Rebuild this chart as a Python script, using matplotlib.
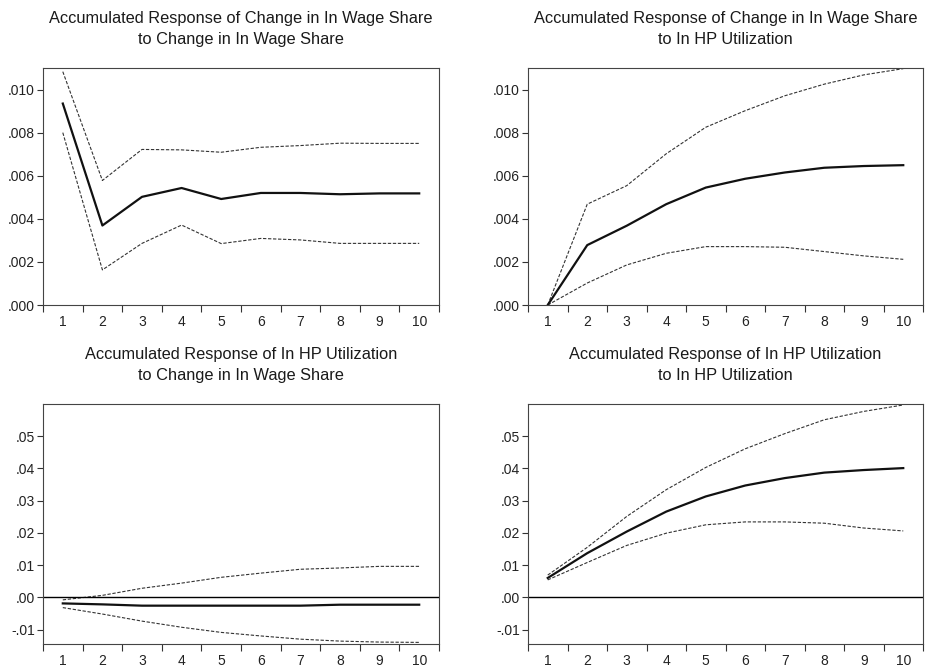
import matplotlib
matplotlib.use("Agg")
import matplotlib.pyplot as plt
from matplotlib.ticker import FixedLocator, FuncFormatter, NullFormatter

plt.rcParams['font.family'] = ['Liberation Sans', 'DejaVu Sans']

periods = list(range(1, 11))

# Change in ln wage share -> change in ln wage share
ws_ws_mean = [0.00935, 0.00369, 0.00502, 0.00543, 0.00492, 0.00520, 0.00520, 0.00514, 0.00518, 0.00518]
ws_ws_up = [0.01083, 0.00578, 0.00722, 0.00720, 0.00709, 0.00732, 0.00740, 0.00751, 0.00750, 0.00750]
ws_ws_lo = [0.00800, 0.00163, 0.00286, 0.00371, 0.00285, 0.00309, 0.00302, 0.00286, 0.00286, 0.00286]

# Change in ln wage share -> ln HP utilization
ws_u_mean = [0.0, 0.00278, 0.00368, 0.00468, 0.00545, 0.00586, 0.00615, 0.00637, 0.00645, 0.00649]
ws_u_up = [0.0, 0.00468, 0.00554, 0.00702, 0.00825, 0.00902, 0.00971, 0.01025, 0.01068, 0.01097]
ws_u_lo = [0.0, 0.00102, 0.00186, 0.00240, 0.00271, 0.00271, 0.00268, 0.00248, 0.00228, 0.00212]

# ln HP utilization -> change in ln wage share
u_ws_mean = [-0.0019, -0.0022, -0.0026, -0.0026, -0.0026, -0.0026, -0.0026, -0.0023, -0.0023, -0.0023]
u_ws_up = [-0.0008, 0.0006, 0.0028, 0.0044, 0.0062, 0.0075, 0.0087, 0.0091, 0.0096, 0.0096]
u_ws_lo = [-0.0032, -0.0052, -0.0074, -0.0093, -0.0109, -0.0120, -0.0130, -0.0136, -0.0139, -0.0140]

# ln HP utilization -> ln HP utilization
u_u_mean = [0.0060, 0.0137, 0.0204, 0.0266, 0.0313, 0.0347, 0.0370, 0.0387, 0.0395, 0.0401]
u_u_up = [0.0069, 0.0155, 0.0251, 0.0334, 0.0403, 0.0461, 0.0508, 0.0551, 0.0577, 0.0597]
u_u_lo = [0.0054, 0.0108, 0.0161, 0.0199, 0.0225, 0.0234, 0.0234, 0.0230, 0.0215, 0.0206]

titles = [
    "Accumulated Response of Change in In Wage Share\nto Change in In Wage Share",
    "Accumulated Response of Change in In Wage Share\nto In HP Utilization",
    "Accumulated Response of In HP Utilization\nto Change in In Wage Share",
    "Accumulated Response of In HP Utilization\nto In HP Utilization",
]
series = [
    (ws_ws_mean, ws_ws_up, ws_ws_lo),
    (ws_u_mean, ws_u_up, ws_u_lo),
    (u_ws_mean, u_ws_up, u_ws_lo),
    (u_u_mean, u_u_up, u_u_lo),
]
small_ticks = [0.000, 0.002, 0.004, 0.006, 0.008, 0.010]
big_ticks = [-0.01, 0.00, 0.01, 0.02, 0.03, 0.04, 0.05]


def fmt3(v, pos):
    s = "%.3f" % v
    return s.replace("0.", ".", 1)


def fmt2(v, pos):
    s = "%.2f" % v
    return s.replace("0.", ".", 1)


W, H = 925, 672
fig = plt.figure(figsize=(W / 100, H / 100), dpi=100)

# axes boxes in pixels: left, right, top, bottom
boxes = [(43, 439, 68, 305), (528, 923, 68, 305),
         (43, 439, 404, 644), (528, 923, 404, 644)]

for i, (box, title, (m, up, lo)) in enumerate(zip(boxes, titles, series)):
    l, r, t, b = box
    ax = fig.add_axes([l / W, 1 - b / H, (r - l) / W, (b - t) / H])
    ax.plot(periods, up, color="#333333", lw=0.8, ls=(0, (3, 1.5)))
    ax.plot(periods, lo, color="#333333", lw=0.8, ls=(0, (3, 1.5)))
    ax.plot(periods, m, color="#111111", lw=1.6)
    ax.set_xlim(0.5, 10.5)
    if i < 2:
        ax.set_ylim(0, 0.011)
        ax.set_yticks(small_ticks)
        ax.yaxis.set_major_formatter(FuncFormatter(fmt3))
    else:
        ax.set_ylim(-0.0145, 0.06)
        ax.set_yticks(big_ticks)
        ax.yaxis.set_major_formatter(FuncFormatter(fmt2))
        ax.axhline(0, color="black", lw=1.0)
    ax.xaxis.set_major_locator(FixedLocator([p - 0.5 for p in periods] + [10.5]))
    ax.xaxis.set_major_formatter(NullFormatter())
    ax.xaxis.set_minor_locator(FixedLocator(periods))
    ax.set_xticklabels([str(p) for p in periods], minor=True)
    ax.tick_params(axis="x", which="major", direction="out", length=5, width=0.8, color="#333333")
    ax.tick_params(axis="x", which="minor", length=0, pad=7, labelsize=10, labelcolor="#222222")
    ax.tick_params(axis="y", direction="out", length=4, width=0.8, color="#333333",
                   labelsize=10, labelcolor="#222222", pad=2)
    for s in ax.spines.values():
        s.set_color("#444444")
        s.set_linewidth(0.8)
    ax.set_title(title, fontsize=11.75, color="#1a1a1a", pad=17, linespacing=1.55)

fig.savefig("out.png", dpi=100)
